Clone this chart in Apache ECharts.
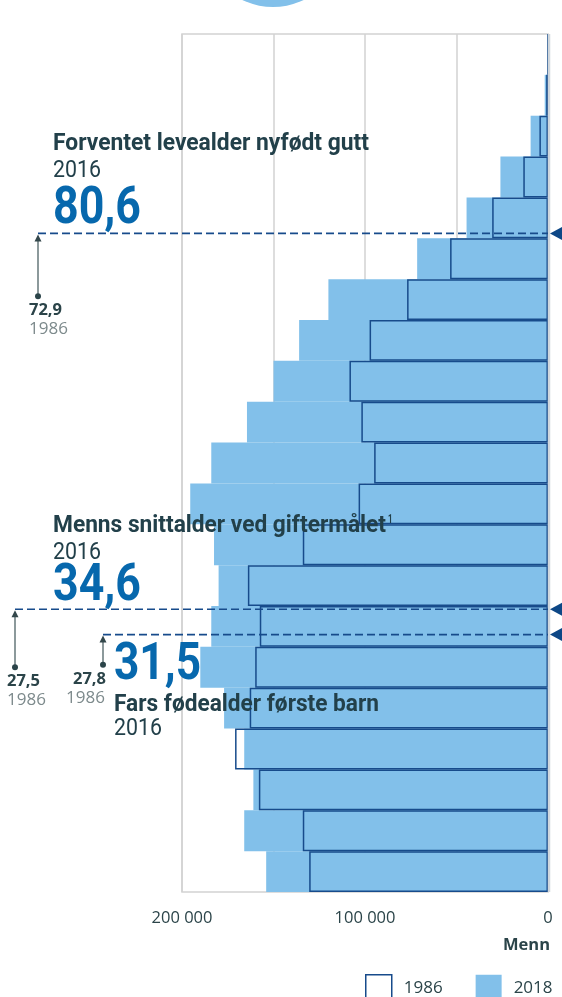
<!DOCTYPE html>
<html><head><meta charset="utf-8">
<script src="https://cdn.jsdelivr.net/npm/echarts@6/dist/echarts.min.js"></script>
<style>html,body{margin:0;padding:0;background:#fff;}#c{width:562px;height:997px;}</style>
</head><body><div id="c"></div><script>
// ---- data ----
const ageGroups = ['0-4','5-9','10-14','15-19','20-24','25-29','30-34','35-39','40-44','45-49','50-54','55-59','60-64','65-69','70-74','75-79','80-84','85-89','90-94','95-99','100+'];
const men2018 = [154000,166000,161000,166000,177000,190000,184000,180000,182500,195500,184000,164500,150000,136000,120000,71500,44500,26000,9500,1800,300];
const men1986 = [130500,134000,158000,171000,163000,160000,157500,164000,134000,103500,95000,102000,108500,97500,77000,53500,30500,13500,4700,1000,100];
const xTickLabels = [0, 100000, 200000];
const annTitles = ['Forventet levealder nyfødt gutt','Menns snittalder ved giftermålet','Fars fødealder første barn'];
const annValues2016 = [80.6, 34.6, 31.5];
const annValues1986 = [72.9, 27.5, 27.8];
const annYearNow = '2016';
const annYearThen = '1986';
const legendNames = ['1986','2018'];

// ---- styles ----
const C_BAR = '#82c0ea', C_OUT = '#174b8b', C_DARK = '#22404a', C_BIG = '#0768ad', C_GRAY = '#7d8a8c';
const chart = echarts.init(document.getElementById('c'), null, {renderer:'canvas'});
const fmt = v => v.toFixed(1).replace('.', ',');

chart.setOption({
  animation:false,
  grid:{left:182, right:14, top:34, bottom:105, show:true, borderColor:'#d2d2d2', borderWidth:1.5},
  legend:{
    data:[{name:legendNames[0], itemStyle:{color:'#ffffff', borderColor:C_OUT, borderWidth:1.5}},{name:legendNames[1]}],
    icon:'rect',
    left:365, top:974, itemWidth:26, itemHeight:26, itemGap:33, padding:0,
    textStyle:{fontFamily:'Open Sans', fontSize:17, color:'#2b4449', padding:[0,0,0,7]}
  },
  xAxis:{type:'value', inverse:true, min:0, max:200000, interval:50000,
    axisLine:{show:false}, axisTick:{show:false},
    splitLine:{lineStyle:{color:'#d2d2d2', width:1.5}},
    axisLabel:{margin:18, fontFamily:'Open Sans', fontSize:16.5, color:'#2b4449',
      formatter:v => xTickLabels.indexOf(v) >= 0 ? (v === 0 ? '0' : (v/1000) + ' 000') : ''}
  },
  yAxis:[
    {type:'category', data:ageGroups, show:false},
    {type:'value', min:0, max:105, show:false}
  ],
  series:[
    {name:'2018', type:'bar', data:men2018, barCategoryGap:'0%', barGap:'-100%', itemStyle:{color:C_BAR}, z:2},
    {name:'1986', type:'bar', data:men1986, barCategoryGap:'0%', barGap:'-100%',
      itemStyle:{color:'rgba(0,0,0,0)', borderColor:C_OUT, borderWidth:1.5}, z:3}
  ]
});

// ---- annotations ----
const mctx = document.createElement('canvas').getContext('2d');
function ctext(text, x, cy, size, weight, color, targetW, family, align){
  family = family || 'Roboto';
  mctx.font = weight + ' ' + size + 'px ' + family;
  const w = mctx.measureText(text).width;
  const sx = targetW ? targetW / w : 1;
  return {type:'text', x:x, y:cy, scaleX:sx, z:100, silent:true,
    style:{text:text, x:0, y:0, fill:color, fontSize:size, fontWeight:weight, fontFamily:family,
      align:align||'left', verticalAlign:'middle'}};
}
const yAge = a => chart.convertToPixel({yAxisIndex:1}, a);
const xRight = chart.convertToPixel({xAxisIndex:0}, 0);
const yTop = yAge(105), yBot = yAge(0);

const g = [];
g.push({type:'circle', shape:{cx:273, cy:-64, r:71}, style:{fill:C_BAR}, z:100});
// zero gridline drawn above the bars (hides the outline's right edge, as in the original)
g.push({type:'line', shape:{x1:xRight+1, y1:yTop, x2:xRight+1, y2:yBot}, style:{stroke:'#cfd6dc', lineWidth:2.5}, z:99});

// text blocks
const blocks = [
  {x:53, t:144, y1:170.5, b:209.5, tw:316, bw:88},
  {x:53, t:526, y1:552.5, b:586.5, tw:333, bw:88},
  {x:114, t:704.5, y1:728.5, b:665.5, tw:265, bw:87}
];
blocks.forEach((bk, i) => {
  g.push(ctext(annTitles[i], bk.x, bk.t, 24, 'bold', C_DARK, bk.tw));
  g.push(ctext(annYearNow, bk.x, bk.y1, 24, 'normal', C_DARK, 48));
  g.push(ctext(fmt(annValues2016[i]), bk.x, bk.b, 52, 'bold', C_BIG, bk.bw));
});
g.push(ctext('1', 388, 520, 12, 'bold', C_DARK, 4.5));

// lines & arrows
const arrowX = [38, 15, 103];
const oldLab = [{x:29, al:'left'}, {x:7, al:'left'}, {x:106, al:'right'}];
annValues2016.forEach((v, i) => {
  const yl = yAge(v), yd = yAge(annValues1986[i]), xa = arrowX[i];
  g.push({type:'line', shape:{x1:xa, y1:yl, x2:xRight, y2:yl}, style:{stroke:C_OUT, lineWidth:1.6, lineDash:[8,4]}, z:101});
  g.push({type:'polygon', shape:{points:[[550, yl],[562, yl-6.5],[562, yl+6.5]]}, style:{fill:'#0d4786'}, z:101});
  g.push({type:'line', shape:{x1:xa, y1:yd, x2:xa, y2:yl+6}, style:{stroke:'#66777a', lineWidth:1.5}, z:101});
  g.push({type:'polygon', shape:{points:[[xa, yl+1],[xa-3.5, yl+8],[xa+3.5, yl+8]]}, style:{fill:'#33474b'}, z:101});
  g.push({type:'circle', shape:{cx:xa, cy:yd, r:3}, style:{fill:'#2b4449'}, z:101});
  const lx = oldLab[i].x, al = oldLab[i].al;
  g.push(ctext(fmt(annValues1986[i]), lx, yd + 14, 16.5, 'bold', '#2b4449', null, 'Open Sans', al));
  g.push(ctext(annYearThen, al === 'right' ? lx - 1 : lx, yd + 33, 17, 'normal', C_GRAY, null, 'Open Sans', al));
});
g.push(ctext('Menn', 550, 945, 16.5, 'bold', '#2b4449', null, 'Open Sans', 'right'));
chart.setOption({graphic:g});
</script></body></html>
